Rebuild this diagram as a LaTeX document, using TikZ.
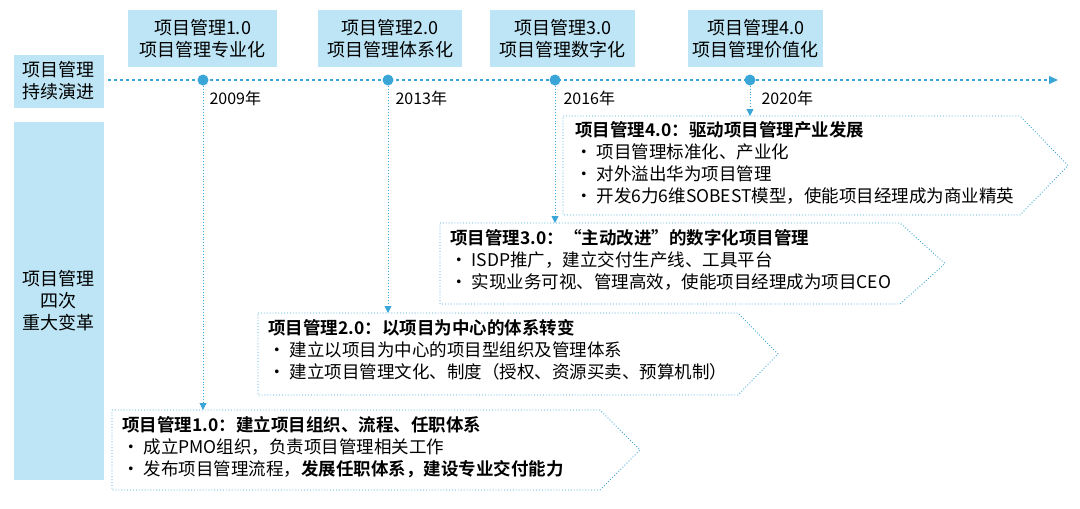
\documentclass[tikz,border=0pt]{standalone}
\usepackage{fontspec}
\setmainfont{Noto Sans CJK SC}[BoldFont={Noto Sans CJK SC Bold}]
\usetikzlibrary{arrows.meta}
\definecolor{lb}{HTML}{BDE5F5}
\definecolor{ln}{HTML}{3AA6D8}
\tikzset{
  x=1pt,y=-1pt,
  lbox/.style={fill=lb,draw=none,align=center,font=\fontsize{18}{22}\selectfont,inner sep=0pt},
  penta/.style={draw=ln,line width=0.9pt,dotted},
  body/.style={anchor=north west,align=left,font=\fontsize{17.5}{22}\selectfont,inner sep=0pt},
  yr/.style={font=\fontsize{16}{18}\selectfont,anchor=west},
  dot/.style={circle,fill=ln,inner sep=0pt,minimum size=11pt},
  vline/.style={draw=ln,line width=0.9pt,dotted,-{Triangle[length=7pt,width=7pt]}}
}
\begin{document}
\begin{tikzpicture}
\useasboundingbox (0,0) rectangle (1080,509);
\node[lbox,minimum width=90pt,minimum height=53pt] (l1) at (59,81) {项目管理\\持续演进};
\node[lbox,minimum width=90pt,minimum height=358pt] (l2) at (59,301) {项目管理\\四次\\重大变革};
\coordinate (ts) at (108,80); \coordinate (te) at (1058,80);
\draw[draw=ln,line width=1.2pt,dashed,-{Triangle[length=9pt,width=8pt]}] (ts) -- (te);
\node[lbox,minimum width=149pt,minimum height=57pt] (t1) at (202.5,38.5) {项目管理1.0\\项目管理专业化};
\node[lbox,minimum width=144pt,minimum height=57pt] (t2) at (390,38.5) {项目管理2.0\\项目管理体系化};
\node[lbox,minimum width=145pt,minimum height=57pt] (t3) at (562.5,38.5) {项目管理3.0\\项目管理数字化};
\node[lbox,minimum width=135pt,minimum height=57pt] (t4) at (755.5,38.5) {项目管理4.0\\项目管理价值化};
\node[dot] (d1) at (203,80) {};
\node[dot] (d2) at (388,80) {};
\node[dot] (d3) at (555,80) {};
\node[dot] (d4) at (750,80) {};
\node[yr] (y1) at (206,98) {2009年};
\node[yr] (y2) at (392,98) {2013年};
\node[yr] (y3) at (560,98) {2016年};
\node[yr] (y4) at (758,98) {2020年};
% pentagons
\draw[penta] (563,116)--(1020,116)--(1068,165.5)--(1020,215)--(563,215)--cycle;
\draw[penta] (440,223)--(900,223)--(945,263.5)--(900,304)--(440,304)--cycle;
\draw[penta] (258,313)--(738,313)--(778,354)--(738,395)--(258,395)--cycle;
\draw[penta] (112,410)--(600,410)--(640,450)--(600,490)--(112,490)--cycle;
\coordinate (b4) at (750,116); \coordinate (b3) at (555,223);
\coordinate (b2) at (388,313); \coordinate (b1) at (203,410);
\draw[vline] (d4) -- (b4);
\draw[vline] (d3) -- (b3);
\draw[vline] (d2) -- (b2);
\draw[vline] (d1) -- (b1);
\node[body] (p4) at (575,121) {\textbf{项目管理4.0：驱动项目管理产业发展}\\• 项目管理标准化、产业化\\• 对外溢出华为项目管理\\• 开发6力6维SOBEST模型，使能项目经理成为商业精英};
\node[body] (p3) at (450,229) {\textbf{项目管理3.0：“主动改进”的数字化项目管理}\\• ISDP推广，建立交付生产线、工具平台\\• 实现业务可视、管理高效，使能项目经理成为项目CEO};
\node[body] (p2) at (268,319) {\textbf{项目管理2.0：以项目为中心的体系转变}\\• 建立以项目为中心的项目型组织及管理体系\\• 建立项目管理文化、制度（授权、资源买卖、预算机制）};
\node[body] (p1) at (122,416) {\textbf{项目管理1.0：建立项目组织、流程、任职体系}\\• 成立PMO组织，负责项目管理相关工作\\• 发布项目管理流程，\textbf{发展任职体系，建设专业交付能力}};
\end{tikzpicture}
\end{document}
